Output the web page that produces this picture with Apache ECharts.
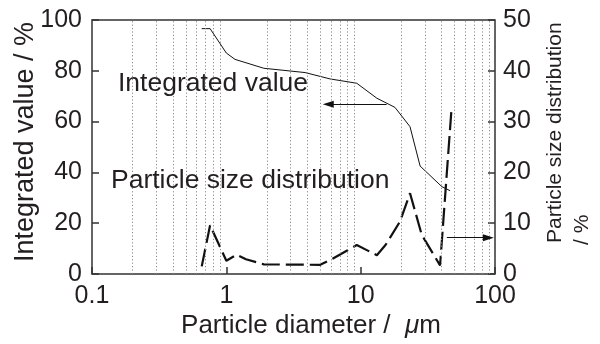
<!DOCTYPE html>
<html>
<head>
<meta charset="utf-8">
<script src="https://cdn.jsdelivr.net/npm/echarts@6/dist/echarts.min.js"></script>
<style>
  html, body { margin: 0; padding: 0; background: #fff; }
  #chart { width: 600px; height: 344px; }
</style>
</head>
<body>
<div id="chart"></div>
<script>
// Cumulative (integrated) particle size curve, % (left axis)
const cumDiameter = [0.656, 0.757, 1.0, 1.16, 1.9, 3.86, 5.92, 9.35, 13.2, 18.0, 23.3, 27.7, 40.2, 46.3];
const cumValue    = [96.6, 96.6, 87.0, 84.5, 81.0, 79.3, 76.8, 75.1, 69.2, 65.6, 58.0, 42.5, 34.4, 32.8];

// Frequency distribution, % (right axis)
const distDiameter = [0.656, 0.757, 1.0, 1.19, 1.4, 1.9, 5.0, 6.27, 9.35, 13.2, 15.3, 19.6, 23.3, 28.5, 39.0, 47.6];
const distValue    = [1.5, 9.6, 2.6, 3.8, 2.9, 1.9, 1.8, 3.1, 5.7, 3.7, 5.7, 10.3, 15.9, 7.7, 1.7, 33.0];

// Axis ranges / ticks
const xRange = [0.1, 100];
const leftRange = [0, 100], leftStep = 20;
const rightRange = [0, 50], rightStep = 10;

// Dotted guides at 2..9 of every decade
const minorGrid = [0.2, 0.3, 0.4, 0.5, 0.6, 0.7, 0.8, 0.9,
                   2, 3, 4, 5, 6, 7, 8, 9,
                   20, 30, 40, 50, 60, 70, 80, 90];

// Arrows pointing each curve to its axis: [x, y] start -> end
const cumArrow  = [[15.6, 66.8], [5.74, 66.8]];
const distArrow = [[43.8, 7.15], [89.3, 7.15]];

const INK = '#231f20';
const FONT = '"Liberation Sans", Arial, Helvetica, sans-serif';

const pairs = (xs, ys) => xs.map((x, i) => [x, ys[i]]);

const chart = echarts.init(document.getElementById('chart'), null, { renderer: 'canvas' });

const gridMarks = minorGrid.map(v => ({
  xAxis: v,
  lineStyle: { color: '#8a8a8a', width: 1, type: [1.2, 2.2] }
}));

const arrowLine = a => [
  { coord: a[0], symbol: 'none' },
  { coord: a[1], symbol: 'triangle', symbolSize: [7, 11] }
];

chart.setOption({
  animation: false,
  backgroundColor: '#fff',
  grid: {
    left: 92, right: 105, top: 20, bottom: 70,
    show: true, borderColor: '#333', borderWidth: 1.5, backgroundColor: 'transparent'
  },
  xAxis: {
    type: 'log', logBase: 10, min: xRange[0], max: xRange[1],
    axisLine: { show: false },
    axisTick: { show: true, inside: true, length: 7, lineStyle: { color: '#333', width: 1.5 } },
    axisLabel: { fontSize: 25, color: INK, fontFamily: FONT, margin: 10 },
    splitLine: { show: false },
    minorTick: { show: false }
  },
  yAxis: [
    {
      type: 'value', position: 'left', min: leftRange[0], max: leftRange[1], interval: leftStep,
      axisLine: { show: false },
      axisTick: { show: true, inside: true, length: 7, lineStyle: { color: '#333', width: 1.5 } },
      axisLabel: { fontSize: 25, color: INK, fontFamily: FONT, margin: 10 },
      splitLine: { show: false }
    },
    {
      type: 'value', position: 'right', min: rightRange[0], max: rightRange[1], interval: rightStep,
      axisLine: { show: false },
      axisTick: { show: true, inside: true, length: 7, lineStyle: { color: '#333', width: 1.5 } },
      axisLabel: { fontSize: 25, color: INK, fontFamily: FONT, margin: 8 },
      splitLine: { show: false }
    }
  ],
  series: [
    {
      name: 'Integrated value',
      type: 'line', yAxisIndex: 0,
      data: pairs(cumDiameter, cumValue),
      symbol: 'none',
      lineStyle: { color: '#111', width: 1 },
      z: 3,
      markLine: {
        silent: true, animation: false,
        symbol: ['none', 'none'],
        label: { show: false },
        lineStyle: { color: '#111', width: 1, type: 'solid' },
        data: [...gridMarks, arrowLine(cumArrow)]
      }
    },
    {
      name: 'Particle size distribution',
      type: 'line', yAxisIndex: 1,
      data: pairs(distDiameter, distValue),
      symbol: 'none',
      lineStyle: { color: '#111', width: 2.2, type: [18, 6] },
      z: 4,
      markLine: {
        silent: true, animation: false,
        symbol: ['none', 'none'],
        label: { show: false },
        lineStyle: { color: '#111', width: 1, type: 'solid' },
        data: [arrowLine(distArrow)]
      }
    }
  ],
  graphic: [
    {
      type: 'text', x: 118, y: 84, z: 10,
      style: { text: 'Integrated value', fontSize: 26.5, fontFamily: FONT, fill: INK,
               align: 'left', verticalAlign: 'middle' }
    },
    {
      type: 'text', x: 111, y: 181, z: 10,
      style: { text: 'Particle size distribution', fontSize: 26.5, fontFamily: FONT, fill: INK,
               align: 'left', verticalAlign: 'middle' }
    },
    {
      type: 'text', x: 311, y: 326, z: 10,
      style: {
        text: '{a|Particle diameter /  }{b|μ}{a|m}',
        align: 'center', verticalAlign: 'middle',
        rich: {
          a: { fontSize: 26, fontFamily: FONT, fill: INK },
          b: { fontSize: 26, fontFamily: FONT, fill: INK, fontStyle: 'italic' }
        }
      }
    },
    {
      type: 'text', x: 26, y: 142, rotation: Math.PI / 2, z: 10,
      style: { text: 'Integrated value / %', fontSize: 27, fontFamily: FONT, fill: INK,
               align: 'center', verticalAlign: 'middle' }
    },
    {
      type: 'text', x: 555, y: 243, rotation: Math.PI / 2, z: 10,
      style: { text: 'Particle size distribution', fontSize: 21, fontFamily: FONT, fill: INK,
               align: 'left', verticalAlign: 'middle' }
    },
    {
      type: 'text', x: 582, y: 245, rotation: Math.PI / 2, z: 10,
      style: { text: '/ %', fontSize: 21, fontFamily: FONT, fill: INK,
               align: 'left', verticalAlign: 'middle' }
    }
  ]
});
</script>
</body>
</html>
